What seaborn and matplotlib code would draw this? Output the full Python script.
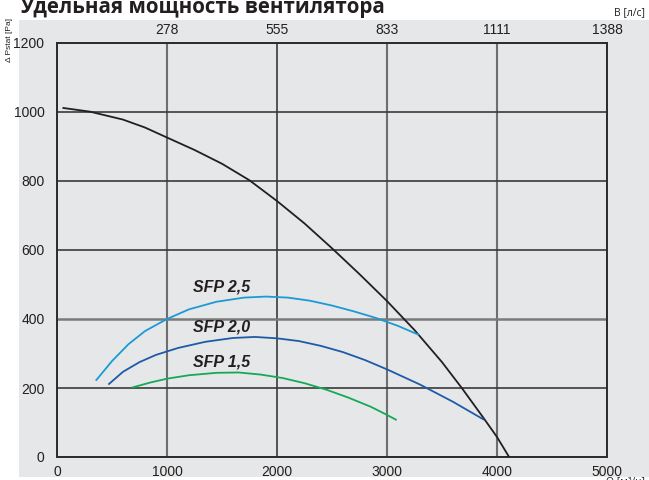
import matplotlib
matplotlib.use("Agg")
import matplotlib.pyplot as plt
import seaborn as sns
import pandas as pd
from matplotlib.patches import Rectangle

# ---- data ----
fan_q = [50, 300, 600, 800, 1000, 1250, 1500, 1750, 2000, 2250, 2500, 2750, 3000, 3250, 3500, 3680, 3880, 4000, 4110]
fan_p = [1012, 1001, 978, 955, 926, 890, 850, 802, 742, 677, 605, 530, 452, 368, 275, 200, 112, 58, 0]

sfp25_q = [352, 500, 650, 800, 1000, 1200, 1450, 1700, 1900, 2100, 2300, 2500, 2700, 2900, 3100, 3290]
sfp25_p = [221, 278, 327, 365, 400, 428, 450, 462, 465, 462, 453, 439, 422, 403, 380, 354]

sfp20_q = [467, 600, 750, 900, 1100, 1350, 1600, 1800, 2000, 2200, 2400, 2600, 2800, 3000, 3300, 3600, 3882]
sfp20_p = [210, 247, 275, 296, 316, 334, 345, 348, 344, 336, 322, 304, 281, 254, 210, 160, 108]

sfp15_q = [679, 850, 1000, 1200, 1450, 1650, 1850, 2050, 2250, 2450, 2650, 2850, 3000, 3088]
sfp15_p = [201, 216, 227, 237, 244, 245, 239, 229, 214, 195, 172, 146, 122, 107]

x_ticks = [0, 1000, 2000, 3000, 4000, 5000]
y_ticks = [0, 200, 400, 600, 800, 1000, 1200]
top_ticks = [1000, 2000, 3000, 4000, 5000]
top_labels = ["278", "555", "833", "1111", "1388"]

labels = ["SFP 2,5", "SFP 2,0", "SFP 1,5"]
label_pos_q = [1500, 1500, 1500]
label_pos_p = [493, 377, 275]

title = "Удельная мощность вентилятора"

# ---- style ----
sns.set_style("white")
plt.rcParams["font.family"] = ["Liberation Sans", "DejaVu Sans"]

fig = plt.figure(figsize=(6.49, 4.80), dpi=100)
fig.patch.set_facecolor("white")
fig.patches.append(Rectangle((19 / 649, 3 / 480), 630 / 649, 457 / 480,
                             transform=fig.transFigure, facecolor="#e6e7e8",
                             edgecolor="none", zorder=-10))

ax = fig.add_axes([57 / 649, 23 / 480, 550 / 649, 414 / 480])
ax.set_facecolor("#e6e7e8")

df = pd.concat([
    pd.DataFrame({"q": fan_q, "p": fan_p, "s": "fan"}),
    pd.DataFrame({"q": sfp25_q, "p": sfp25_p, "s": "SFP 2,5"}),
    pd.DataFrame({"q": sfp20_q, "p": sfp20_p, "s": "SFP 2,0"}),
    pd.DataFrame({"q": sfp15_q, "p": sfp15_p, "s": "SFP 1,5"}),
])
palette = {"fan": "#231f20", "SFP 2,5": "#1c9ad6", "SFP 2,0": "#1f5aa8", "SFP 1,5": "#16a955"}
sns.lineplot(data=df, x="q", y="p", hue="s", palette=palette, sort=False,
             estimator=None, linewidth=1.3, legend=False, ax=ax, zorder=3,
             solid_joinstyle="round", solid_capstyle="butt")

ax.set_xlim(0, 5000)
ax.set_ylim(0, 1200)
ax.set_xticks(x_ticks)
ax.set_yticks(y_ticks)
ax.set_xlabel("")
ax.set_ylabel("")
ax.tick_params(axis="both", length=0, labelsize=10, colors="#231f20")
ax.tick_params(axis="x", pad=6)
ax.tick_params(axis="y", pad=9)

ax.grid(True, zorder=1)
xgc = ["#3a3a3a", "#6e6e6e", "#3a3a3a", "#6e6e6e", "#6e6e6e", "#3a3a3a"]
xgw = [1.2, 1.5, 1.2, 1.5, 1.5, 1.2]
for gl, c, w in zip(ax.get_xgridlines(), xgc, xgw):
    gl.set_color(c); gl.set_linewidth(w)
ygc = ["#3a3a3a", "#3a3a3a", "#7a7a7a", "#3a3a3a", "#3a3a3a", "#3a3a3a", "#3a3a3a"]
ygw = [1.2, 1.2, 1.8, 1.2, 1.2, 1.2, 1.2]
for gl, c, w in zip(ax.get_ygridlines(), ygc, ygw):
    gl.set_color(c); gl.set_linewidth(w)
ax.set_axisbelow(True)
for sp in ax.spines.values():
    sp.set_color("#2b2b2b"); sp.set_linewidth(1.4); sp.set_visible(True)

# top axis
ax2 = ax.twiny()
ax2.set_xlim(ax.get_xlim())
ax2.set_xticks(top_ticks)
ax2.set_xticklabels(top_labels)
ax2.tick_params(axis="x", length=0, labelsize=10, colors="#231f20", pad=4)
for sp in ax2.spines.values():
    sp.set_visible(False)

for t, q, p in zip(labels, label_pos_q, label_pos_p):
    ax.text(q, p, t, ha="center", va="center", fontsize=11.5,
            fontweight="bold", fontstyle="italic", color="#231f20", zorder=5)

fig.text(20 / 649, 1 - 13 / 480, title, fontsize=14.8, fontweight="bold",
         family=["Open Sans", "DejaVu Sans"], color="#231f20", va="baseline")
fig.text(645 / 649, 1 - 15 / 480, "В [л/с]", fontsize=7.5, ha="right",
         family=["Open Sans", "DejaVu Sans"], color="#231f20", va="baseline")
fig.text(645 / 649, -5 / 480, "Q [м³/ч]", fontsize=7.5, ha="right",
         family=["Open Sans", "DejaVu Sans"], color="#231f20", va="baseline")
fig.text(10 / 649, 1 - 40 / 480, "Δ Pstat [Pa]", fontsize=6, rotation=90,
         ha="center", va="center", color="#231f20")

fig.savefig("out.png", dpi=100)
